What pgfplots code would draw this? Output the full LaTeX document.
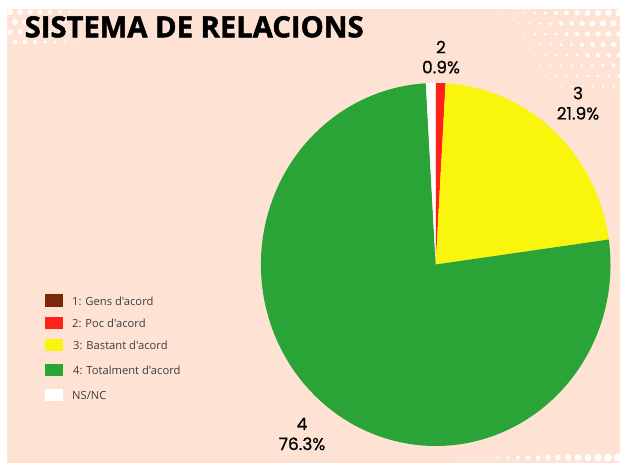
\documentclass[border=0pt]{standalone}
\usepackage{pgfplots}
\pgfplotsset{compat=1.18}
\usepackage{pgfplotstable}
\usepackage{fontspec}
\setmainfont{Poppins}
\newfontfamily\labfont{Poppins}[FakeBold=0.7]
\newfontfamily\titlefont{Open Sans}[BoldFeatures={FakeBold=1.6}]
\newfontfamily\legfont{Open Sans}
\definecolor{peach}{RGB}{254,227,212}
\definecolor{cbrown}{RGB}{122,40,12}
\definecolor{cred}{RGB}{254,34,24}
\definecolor{cyellow}{RGB}{249,245,12}
\definecolor{cgreen}{RGB}{42,163,55}
\definecolor{legtext}{RGB}{60,60,60}

\pgfplotstableread{
idx value
1 0.0
2 0.9
3 21.9
4 76.3
5 0.9
}\piedata

\newcommand\htdot[3]{\edef\tmpdot{\noexpand\fill[white] (axis cs:#1,#2) circle[radius=#3 bp];}\tmpdot}

\begin{document}%
\begin{tikzpicture}
\pgfplotstablegetelem{0}{value}\of\piedata\edef\vA{\pgfplotsretval}
\pgfplotstablegetelem{1}{value}\of\piedata\edef\vB{\pgfplotsretval}
\pgfplotstablegetelem{2}{value}\of\piedata\edef\vC{\pgfplotsretval}
\pgfplotstablegetelem{3}{value}\of\piedata\edef\vD{\pgfplotsretval}
\pgfplotstablegetelem{4}{value}\of\piedata\edef\vE{\pgfplotsretval}
\pgfmathsetmacro\tA{90}
\pgfmathsetmacro\tB{\tA-3.6*\vA}
\pgfmathsetmacro\tC{\tB-3.6*\vB}
\pgfmathsetmacro\tD{\tC-3.6*\vC}
\pgfmathsetmacro\tE{\tD-3.6*\vD}
\pgfmathsetmacro\tF{\tE-3.6*\vE}
\def\cx{435.7}\def\cy{264.5}\def\rx{174.8}\def\ry{181.5}
\begin{axis}[
  hide axis, scale only axis, width=620bp, height=463bp,
  xmin=0, xmax=620, ymin=0, ymax=463, y dir=reverse, clip=false,
]
\coordinate (BL) at (axis cs:0,463);
\coordinate (TR) at (axis cs:620,0);
% background
\fill[white] (axis cs:0,0) rectangle (axis cs:620,463);
\fill[peach] (axis cs:7,9) rectangle (axis cs:620,463);
% halftone decoration, top right
\foreach \i in {0,...,13}{
  \foreach \j in {0,...,7}{
    \pgfmathsetmacro\px{619-10.5*\i+mod(\j,2)*5}
    \pgfmathsetmacro\py{13+10.5*\j}
    \pgfmathsetmacro\dd{veclen(630-\px,\py+10)}
    \pgfmathsetmacro\rr{4.3-0.029*\dd}
    \ifdim\rr pt>0.35pt \htdot{\px}{\py}{\rr}\fi
  }
}
% halftone decoration, top left (under title)
\foreach \i in {0,...,9}{
  \foreach \j in {0,...,3}{
    \pgfmathsetmacro\px{10+10*\i+mod(\j,2)*5}
    \pgfmathsetmacro\py{12+10*\j}
    \pgfmathsetmacro\rr{3.2-0.28*\i-0.2*\j}
    \ifdim\rr pt>0.35pt \htdot{\px}{\py}{\rr}\fi
  }
}
% halftone decoration, bottom row
\foreach \i in {0,...,17}{
  \pgfmathsetmacro\px{618-10*\i}
  \pgfmathsetmacro\rr{4.2-0.23*\i}
  \ifdim\rr pt>0.35pt \htdot{\px}{457.5}{\rr}\fi
}
% pie slices (clockwise from 12 o'clock)
\addplot[forget plot, fill=cred, draw=none, domain=\tC:\tB, samples=8, variable=\t]
  ({\cx+\rx*cos(\t)},{\cy-\ry*sin(\t)}) -- (axis cs:\cx,\cy) -- cycle;
\addplot[forget plot, fill=cyellow, draw=none, domain=\tD:\tC, samples=80, variable=\t]
  ({\cx+\rx*cos(\t)},{\cy-\ry*sin(\t)}) -- (axis cs:\cx,\cy) -- cycle;
\addplot[forget plot, fill=cgreen, draw=none, domain=\tE:\tD, samples=240, variable=\t]
  ({\cx+\rx*cos(\t)},{\cy-\ry*sin(\t)}) -- (axis cs:\cx,\cy) -- cycle;
\addplot[forget plot, fill=white, draw=none, domain=\tF:\tE, samples=8, variable=\t]
  ({\cx+\rx*cos(\t)},{\cy-\ry*sin(\t)}) -- (axis cs:\cx,\cy) -- cycle;
% legend
\begin{scope}[every node/.style={anchor=base west, inner sep=0pt,
    font=\legfont\fontsize{11.2bp}{13bp}\selectfont, text=legtext}]
\fill[cbrown]  (axis cs:45,294.3) rectangle (axis cs:63.3,306.7);
\node at (axis cs:72,305) {1: Gens d'acord};
\fill[cred]    (axis cs:45,316.6) rectangle (axis cs:63.3,329);
\node at (axis cs:72,327.3) {2: Poc d'acord};
\fill[cyellow] (axis cs:45,338.8) rectangle (axis cs:63.3,351.2);
\node at (axis cs:73,349.5) {3: Bastant d'acord};
\fill[cgreen]  (axis cs:45,363.8) rectangle (axis cs:63.3,376.2);
\node at (axis cs:73,374.5) {4: Totalment d'acord};
\fill[white]   (axis cs:45,388.8) rectangle (axis cs:63.3,401.2);
\node at (axis cs:72,399.5) {NS/NC};
\end{scope}
% title
\node[anchor=base west, inner sep=0pt] at (axis cs:24.5,37.3)
  {\titlefont\bfseries\fontsize{29.2bp}{30bp}\selectfont SISTEMA DE RELACIONS};
% slice labels
\begin{scope}[every node/.style={anchor=base, inner sep=0pt,
    font=\labfont\fontsize{17bp}{19bp}\selectfont, text=black}]
\node at (axis cs:441,53.3) {2};
\node at (axis cs:441,73.3) {0.9\%};
\node at (axis cs:578,99.3) {3};
\node at (axis cs:578,119.5) {21.9\%};
\node at (axis cs:302,430) {4};
\node at (axis cs:302,450) {76.3\%};
\end{scope}
\end{axis}
\pgfresetboundingbox
\path[use as bounding box] (BL) rectangle (TR);
\end{tikzpicture}%
\end{document}
